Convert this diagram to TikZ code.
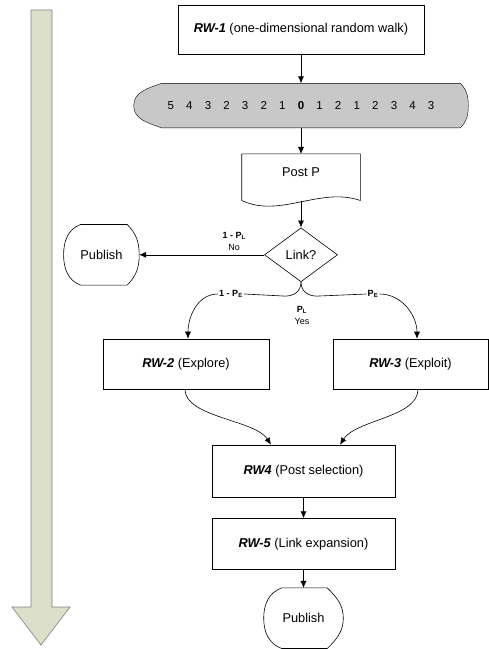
\documentclass[tikz,border=0pt]{standalone}
\usepackage{fontspec}
\setmainfont{Liberation Sans}
\usetikzlibrary{arrows.meta, backgrounds, positioning, shapes.geometric}
\definecolor{walkgray}{HTML}{C8C8C8}
\definecolor{timegreen}{HTML}{DCDFCA}
\definecolor{timeedge}{HTML}{7F7F7F}
\tikzset{rw node/.style={rectangle,draw,minimum width=183pt,minimum height=51pt,inner sep=0pt,font=\fontsize{12.8}{15}\selectfont},
   shape node/.style={rectangle,inner sep=0pt,font=\fontsize{12.8}{15}\selectfont},
   flow label/.style={font=\fontsize{9}{12}\selectfont,align=center,inner sep=1pt},}
% outline of a display shape round a node: #2 node, #3 left depth, #4 right depth
\newcommand{\displayoutline}[4][]{%
   \draw[#1] ([xshift=#3]#2.north west) -- ([xshift=-#4]#2.north east)
      to[out=-45,in=90] (#2.east) to[out=-90,in=45] ([xshift=-#4]#2.south east)
      -- ([xshift=#3]#2.south west) to[out=160,in=-90] (#2.west)
      to[out=90,in=200] ([xshift=#3]#2.north west) -- cycle;}

\begin{document}
\begin{tikzpicture}[x=1pt, y=-1pt, line width=0.6pt, >={Latex[length=7pt,width=6pt]}]
   \useasboundingbox (0,0) rectangle (489,649);
   % time arrow
   \draw[timeedge, fill=timegreen] (31,10) -- (52,10) -- (52,607) -- (70,607) -- (41,645) -- (12,607) -- (31,607) -- cycle;
   \node[rw node, minimum width=246pt, minimum height=49pt] (rw1) at (301,29.5) {\textbf{\textit{RW-1}} (one-dimensional random walk)};
   \node[shape node, minimum width=334pt, minimum height=44pt, font=\fontsize{11.5}{13}\selectfont] (walk) [below = 29pt of rw1]
      {\foreach \n in {5,4,3,2,3,2,1,\textbf{0},1,2,1,2,3,4,3}{\makebox[18.6pt]{\n}}};
   \node[shape node, minimum width=118pt, minimum height=46pt, text depth=11pt] (post) [below = 26pt of walk] {Post P};
   \node[diamond, draw, aspect=1.35, minimum width=73pt, minimum height=54pt, inner sep=0pt, font=\fontsize{12.8}{15}\selectfont] (link) [below = 27pt of post] {Link?};
   \node[shape node, minimum width=75pt, minimum height=60pt] (publish1) [left = 125pt of link] {Publish};
   \node[rw node, minimum width=166pt, minimum height=50pt] (rw2) at (186,364) {\textbf{\textit{RW-2}} (Explore)};
   \node[rw node, minimum width=155pt, minimum height=50pt] (rw3) at (410.5,364) {\textbf{\textit{RW-3}} (Exploit)};
   \node[rw node, minimum height=52pt] (rw4) at (303.5,471) {\textbf{\textit{RW4}} (Post selection)};
   \node[rw node] (rw5) [below = 21pt of rw4] {\textbf{\textit{RW-5}} (Link expansion)};
   \node[shape node, minimum width=79pt, minimum height=60pt] (publish2) [below = 18pt of rw5] {Publish};
   \node[flow label] (pe1) at (231,294) {\textbf{1 - P\textsubscript{E}}};
   \node[flow label] (pe2) at (373,294) {\textbf{P\textsubscript{E}}};
   \node[flow label] (yes) at (302,315) {\textbf{P\textsubscript{L}}\\Yes};
   % shapes
   \begin{scope}[on background layer]
      \displayoutline[fill=walkgray]{walk}{28pt}{8pt}
   \end{scope}
   \displayoutline{publish1}{17pt}{12pt}
   \displayoutline{publish2}{18pt}{16pt}
   \draw (post.south west) -- (post.north west) -- (post.north east) -- (post.south east)
      .. controls +(-40,-14) and +(38,18) .. (post.south west);
   % connectors
   \path[draw, ->]
   (rw1) edge (walk)
   (walk) edge (post)
   (rw4) edge (rw5)
   (rw5) edge (publish2);
   \draw[->] (post.south) -- (link.north);
   \draw[->] (link) -- node[flow label, pos=0.24, above=3pt] (nolabel) {\textbf{1 - P\textsubscript{L}}\\No} (publish1);
   \draw (link.south) .. controls +(0,10) and +(8,0) .. ++(-16,14) -- (pe1.east);
   \draw (link.south) .. controls +(0,10) and +(-8,0) .. ++(16,14) -- (pe2.west);
   \draw[->] (pe1.west) to[out=180,in=90] ([xshift=2pt]rw2.north);
   \draw[->] (pe2.east) to[out=0,in=90] ([xshift=6.5pt]rw3.north);
   \draw[->] ([xshift=-1pt]rw2.south) .. controls +(0,28) and +(-16,-25) .. ([xshift=-32.5pt]rw4.north);
   \draw[->] ([xshift=7.5pt]rw3.south) .. controls +(0,28) and +(16,-25) .. ([xshift=36.5pt]rw4.north);
\end{tikzpicture}
\end{document}
